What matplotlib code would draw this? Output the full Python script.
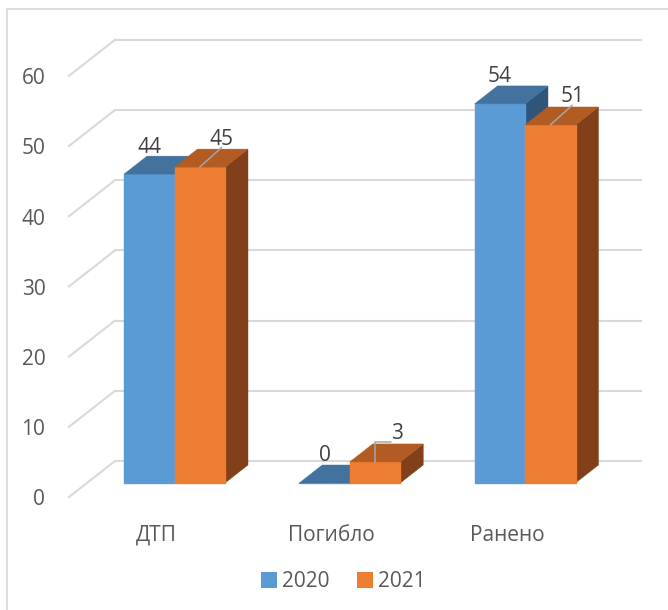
import matplotlib.pyplot as plt
from matplotlib.patches import Patch, Rectangle

# --- data ---
categories = ['ДТП', 'Погибло', 'Ранено']
series_names = ['2020', '2021']
values_2020 = [44, 0, 54]
values_2021 = [45, 3, 51]
y_ticks = [0, 10, 20, 30, 40, 50, 60]
leader_2021 = [True, True, True]   # labels of 2021 are pulled out with a leader line

plt.rcParams['font.family'] = ['Open Sans', 'DejaVu Sans']
plt.rcParams['font.size'] = 15

# colors: front / top / side
blue = ['#5B9BD5', '#43729F', '#31557A']
orange = ['#ED7D31', '#B25B22', '#82401A']
grid_col = '#D9D9D9'
text_col = '#595959'

# oblique projection: one unit of wall depth moves (dx, dy) in data units
px_x = 175.25   # pixels per category
px_y = 7.02     # pixels per value unit
depth_dx = 46 / px_x
depth_dy = 36 / px_y
wall_front = -0.39
wall_back = 0.61
bar_depth = 0.5
bar_w = 50.5 / px_x

fig = plt.figure(figsize=(6.68, 6.10), dpi=100)
ax = fig.add_axes([0, 0, 1, 1])
ax.set_xlim(-174.5 / px_x, (668 - 174.5) / px_x)
ax.set_ylim((483 - 610) / px_y, 483 / px_y)
ax.axis('off')

# outer chart border
fig.patches.append(Rectangle((7 / 668, -0.1), 1.2, 1 - 9 / 610 + 0.1, transform=fig.transFigure,
                             fill=False, edgecolor=grid_col, linewidth=1.2))

# back wall grid + diagonals + tick labels
x_left = -0.5
x_right = len(categories) - 0.5
for v in y_ticks:
    xb = x_left + wall_back * depth_dx
    yb = v + wall_back * depth_dy
    xf = x_left + wall_front * depth_dx
    yf = v + wall_front * depth_dy
    ax.plot([xb, x_right + wall_back * depth_dx], [yb, yb], color=grid_col, lw=1.5, zorder=1)
    ax.plot([xf, xb], [yf, yb], color=grid_col, lw=1.5, zorder=1)
    ax.annotate(str(v), (xf, yf), xytext=(-17, -2), textcoords='offset points',
                ha='right', va='center', color=text_col)


def draw_bar(x0, h, cols):
    ddx = bar_depth * depth_dx
    ddy = bar_depth * depth_dy
    if h > 0:
        ax.fill([x0 + bar_w, x0 + bar_w + ddx, x0 + bar_w + ddx, x0 + bar_w],
                [0, ddy, h + ddy, h], facecolor=cols[2], edgecolor=cols[2], lw=0.3, zorder=3)
        ax.fill([x0, x0 + bar_w, x0 + bar_w, x0], [0, 0, h, h], facecolor=cols[0],
                edgecolor=cols[0], lw=1.0, zorder=3)
    else:
        ax.plot([x0, x0 + bar_w], [0, 0], color=cols[0], lw=1, zorder=3)
    ax.fill([x0, x0 + bar_w, x0 + bar_w + ddx, x0 + ddx], [h, h, h + ddy, h + ddy],
            facecolor=cols[1], edgecolor=cols[1], lw=0.3, zorder=3)


for i, cat in enumerate(categories):
    draw_bar(i - bar_w, values_2020[i], blue)
    draw_bar(i, values_2021[i], orange)

    # data labels 2020
    ax.annotate(str(values_2020[i]), (i - bar_w / 2, values_2020[i] + bar_depth * depth_dy),
                xytext=(0, 6.5), textcoords='offset points', ha='center', va='center',
                color='#404040', zorder=5)
    # data labels 2021 with leader line
    if leader_2021[i]:
        conn = 'arc3' if values_2021[i] > 10 else 'angle,angleA=0,angleB=90,rad=0'
        rel = (0.5, 0.1) if values_2021[i] > 10 else (0, 0.1)
        ax.annotate(str(values_2021[i]), (i + bar_w / 2, values_2021[i]),
                    xytext=(15.8, 20.2), textcoords='offset points', ha='center', va='center',
                    color='#404040', zorder=5,
                    arrowprops=dict(arrowstyle='-', color='#A6A6A6', lw=1.1, shrinkA=0, shrinkB=0,
                                    relpos=rel, connectionstyle=conn, patchA=None))

    # category labels at the front of the floor
    ax.annotate(cat, (i + wall_front * depth_dx, wall_front * depth_dy), xytext=(0, -27.5),
                textcoords='offset points', ha='center', va='center', color=text_col)

handles = [Patch(facecolor=blue[0], edgecolor='none', label=series_names[0]),
           Patch(facecolor=orange[0], edgecolor='none', label=series_names[1])]
fig.legend(handles=handles, loc='center', bbox_to_anchor=(0.514, 0.046), ncol=2, frameon=False,
           handlelength=0.77, handleheight=0.77, handletextpad=0.25, columnspacing=1.3,
           labelcolor=text_col)

fig.savefig('out.png', dpi=100)
